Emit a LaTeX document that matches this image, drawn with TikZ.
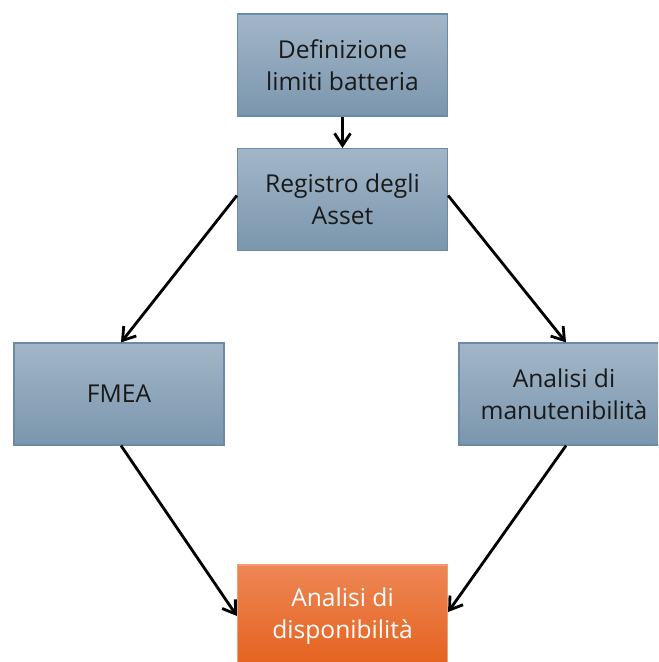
\documentclass[tikz,border=0pt]{standalone}
\usepackage{fontspec}
\newfontfamily\boxfont{Open Sans}
\usetikzlibrary{arrows.meta}
\definecolor{boxtop}{HTML}{A3B6C8}
\definecolor{boxbot}{HTML}{7A96AD}
\definecolor{boxline}{HTML}{6A8BA8}
\definecolor{ortop}{HTML}{EE8654}
\definecolor{orbot}{HTML}{E4621E}
\tikzset{
  >={Straight Barb[length=3mm,width=4mm,line width=2pt]},
  stepbox/.style={rectangle,draw=boxline,line width=0.8pt,top color=boxtop,bottom color=boxbot,
    minimum width=5.25cm,minimum height=2.55cm,align=center,
    font=\boxfont\fontsize{17.5}{22.5}\selectfont,text=black!90},
  endbox/.style={stepbox,draw=ortop!80!white,top color=ortop,bottom color=orbot,text=white},
  flow/.style={->,line width=2pt}
}
\begin{document}
\begin{tikzpicture}[x=0.025cm,y=-0.025cm]
  \useasboundingbox (0,0) rectangle (658,662);
  \begin{scope}
    \clip (0,0) rectangle (658,662);
    % ---- boxes ----
    \node[stepbox] (limiti) at (342.5,65) {Definizione\\limiti batteria};
    \node[stepbox] (registro) at (342.5,199.5) {Registro degli\\Asset};
    \node[stepbox] (fmea) at (119,394) {FMEA};
    \node[stepbox] (manut) at (564,394) {Analisi di\\manutenibilità};
    \node[endbox] (dispo) at (342.5,616) {Analisi di\\disponibilità};
  \end{scope}
  % ---- arrows ----
  \draw[flow] (limiti.south) -- (registro.north);
  \draw[flow] ([yshift=0.1cm]registro.west) -- ([xshift=0.05cm]fmea.north);
  \draw[flow] ([yshift=0.1cm]registro.east) -- ([xshift=0.05cm]manut.north);
  \draw[flow] ([xshift=0.05cm]fmea.south) -- (dispo.west);
  \draw[flow] ([xshift=0.05cm]manut.south) -- ([yshift=0.1cm]dispo.east);
\end{tikzpicture}
\end{document}
